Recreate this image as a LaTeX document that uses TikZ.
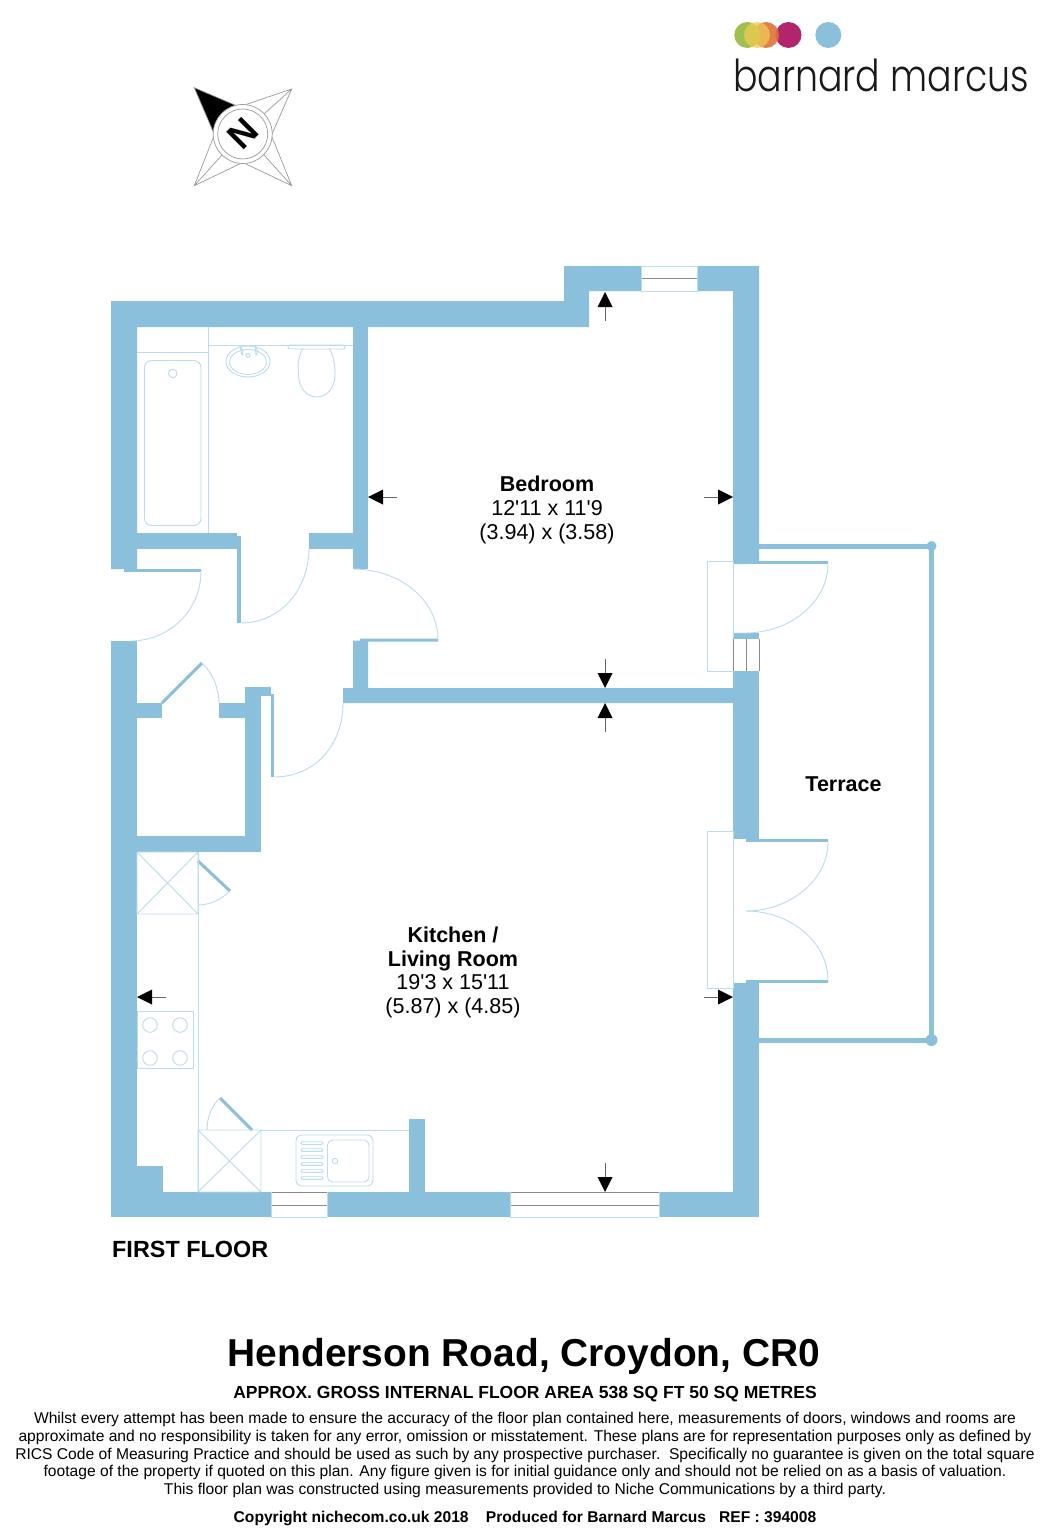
\documentclass[tikz,border=0pt]{standalone}
\usepackage{fontspec}
\setmainfont{Liberation Sans}[Ligatures=TeXOff]
\newfontfamily\logofont{Poppins Light}
\definecolor{wallc}{HTML}{8BC0DC}
\definecolor{fixc}{HTML}{BBDCEA}
\definecolor{winc}{HTML}{8A8A8A}
\definecolor{compc}{HTML}{9A9A9A}
\definecolor{logogreen}{HTML}{9FC04E}
\definecolor{logoyellow}{HTML}{EFCB55}
\definecolor{logoorange}{HTML}{E0713A}
\definecolor{logomagenta}{HTML}{B2256C}
\tikzset{
  wall/.style={fill=wallc},
  fix/.style={draw=fixc,line width=0.9pt},
  leaf/.style={draw=wallc,line width=3pt},
  winline/.style={draw=winc,line width=0.9pt},
  tail/.style={draw=black!60,line width=0.8pt},
  room/.style={align=center,font=\fontsize{21.5}{23.6}\selectfont},
  comp/.style={draw=compc,line width=0.7pt},
}
\newcommand\dimL[2]{\draw[tail] (#1+12,#2) -- (#1+29,#2); \fill (#1,#2) -- (#1+15,#2-7.5) -- (#1+15,#2+7.5) -- cycle;}
\newcommand\dimR[2]{\draw[tail] (#1-12,#2) -- (#1-29,#2); \fill (#1,#2) -- (#1-15,#2-7.5) -- (#1-15,#2+7.5) -- cycle;}
\newcommand\dimU[2]{\draw[tail] (#1,#2+12) -- (#1,#2+29); \fill (#1,#2) -- (#1-7.5,#2+15) -- (#1+7.5,#2+15) -- cycle;}
\newcommand\dimD[2]{\draw[tail] (#1,#2-12) -- (#1,#2-29); \fill (#1,#2) -- (#1-7.5,#2-15) -- (#1+7.5,#2-15) -- cycle;}
\newcommand\wbox[4]{\fill[wall] (#1,#2) rectangle (#3,#4);}
\begin{document}
\begin{tikzpicture}[x=1pt,y=-1pt]
\useasboundingbox (0,0) rectangle (1053,1536);
\fill[white] (0,0) rectangle (1053,1536);
% ---- walls
\fill[wall] (111,301) -- (564,301) -- (564,266) -- (759,266) -- (759,561) -- (746,561) -- (746,564) -- (733,564) -- (733,291) -- (589,291) -- (589,327) -- (137,327) -- (137,569) -- (111,569) -- cycle;
\wbox{124}{569}{201}{571.5}
\wbox{353}{327}{368}{569}
\wbox{137}{533}{237}{548.5}
\wbox{237}{536}{241}{623}
\wbox{309}{533}{353}{548.5}
\fill[wall] (353,640.5) -- (360,640.5) -- (360,638.5) -- (438,638.5) -- (438,641.5) -- (368,641.5) -- (368,688) -- (733,688) -- (733,703) -- (343,703) -- (343,688) -- (353,688) -- cycle;
\wbox{111}{641}{137}{1217}
\wbox{137}{703}{162}{718}
\wbox{219}{703}{246}{718}
\wbox{245}{687}{261}{852}
\wbox{245}{687}{271}{696}
\wbox{271}{694}{274}{777}
\wbox{137}{836}{261}{852}
\wbox{111}{1192}{271}{1217}
\wbox{137}{1166}{163}{1192}
\wbox{327}{1192}{510}{1217}
\wbox{659}{1192}{759}{1217}
\wbox{409}{1119}{425}{1192}
\wbox{733}{633}{759}{638.7}
\wbox{733}{671}{759}{839}
\wbox{733}{983}{759}{1217}
\wbox{746}{839}{828}{842}
\wbox{746}{980}{828}{983}
\wbox{746}{561}{828}{564}
% ---- door leaves on the diagonal
\draw[leaf] (162,703) -- (202,663);
\draw[leaf] (198,861) -- (230,891);
\draw[leaf] (220,1098) -- (252,1130);
% ---- door swings
\draw[fix] (201,571) .. controls (201,610) and (170,641) .. (130,641);
\draw[fix] (309,548) .. controls (309,590) and (280,623) .. (241,623);
\draw[fix] (353,569) .. controls (400,569) and (438,600) .. (438,640);
\draw[fix] (343,703) .. controls (343,745) and (315,777) .. (274,777);
\draw[fix] (202,663) .. controls (212,672) and (219,688) .. (219,703);
\draw[fix] (230,891) .. controls (222,899) and (210,905) .. (198,905);
\draw[fix] (220,1098) .. controls (212,1105) and (207,1117) .. (207,1130);
\draw[fix] (828,564) .. controls (828,602) and (790,633) .. (745,633) -- (733,633);
\draw[fix] (828,842) .. controls (828,880) and (790,911) .. (746,911);
\draw[fix] (828,980) .. controls (828,942) and (790,911) .. (746,911);
% ---- terrace rail
\draw[wallc,line width=5pt] (759,546) -- (931.5,546) -- (931.5,1040) -- (759,1040);
\fill[wallc] (931.5,546) circle (5);
\fill[wallc] (931.5,1040) circle (6);
% ---- outside door boxes
\draw[fix] (733,561) -- (707.5,561) -- (707.5,671) -- (733,671) -- cycle;
\draw[fix] (733,831) -- (707.5,831) -- (707.5,988) -- (733,988) -- cycle;
% ---- windows
\fill[white] (641,266) rectangle (697,291);
\draw[winline] (641,266) -- (697,266) (641,278.5) -- (697,278.5);
\draw[fix] (641,266) rectangle (697,291);
\draw[winline] (271,1192) -- (327,1192) (271,1205) -- (327,1205);
\draw[winline] (510,1192) -- (659,1192) (510,1205) -- (659,1205);
\draw[fix] (271,1217) -- (327,1217) (510,1217) -- (659,1217) (271,1192) -- (271,1217) (327,1192) -- (327,1217) (510,1192) -- (510,1217) (659,1192) -- (659,1217);
\draw[winline] (733,638.7) -- (733,671) (746,638.7) -- (746,671) (759,638.7) -- (759,671);
% ---- bathroom fittings
\draw[fix] (208.7,327) -- (208.7,533) (137,352.7) -- (208.7,352.7) (208.7,345) -- (353,345);
\draw[fix] (144.5,360.5) [rounded corners=7pt] rectangle (201,525.5);
\draw[fix] (172.7,373.5) circle (4.3);
\draw[fix] (248,361.5) ellipse (22 and 15.5);
\draw[fix] (248,362) ellipse (18.5 and 12.5);
\draw[fix] (248,355.5) circle (2);
\draw[fix] (240,346) -- (242,355) -- (243,351) -- (240,346) (255,346) -- (256,355) -- (258,351) -- (255,346);
\draw[fix,rounded corners=2pt] (288,345) -- (345,345) -- (345,349) -- (288,349) -- cycle;
\draw[fix] (303,348) .. controls (296,362) and (298.5,368) .. (298.5,375) .. controls (298.5,388) and (307,397) .. (317,397) .. controls (327,397) and (335,388) .. (335,375) .. controls (335,365) and (334,357) .. (329,348);
% ---- kitchen fittings
\draw[fix] (137,852) rectangle (198,914) (137,852) -- (198,914) (198,852) -- (137,914);
\draw[fix] (198,852) -- (198,1192);
\draw[fix] (137,1011) rectangle (193.5,1068);
\foreach \cx in {150,180} \foreach \cy in {1025,1058} \draw[fix] (\cx,\cy) circle (7.3);
\draw[fix] (198,1130) rectangle (261,1192) (198,1130) -- (261,1192) (261,1130) -- (198,1192);
\draw[fix] (261,1130) -- (409,1130);
\draw[fix] (296,1135) [rounded corners=6pt] rectangle (373,1186);
\draw[fix] (327.5,1140) [rounded corners=5pt] rectangle (369,1182);
\draw[fix] (335,1161) circle (2.7);
\foreach \ly in {1143,1150,1157,1164,1171,1178} \draw[fix,rounded corners=1pt] (301,\ly-1.3) rectangle (323,\ly+1.3);
% ---- dimension arrows
\dimL{368}{497}
\dimR{733}{497}
\dimU{605}{292}
\dimD{605}{688}
\dimU{605}{703}
\dimL{137}{997}
\dimR{733}{997}
\dimD{605}{1192}
% ---- compass
\fill (194.3,87.7) -- (239.5,107) .. controls (222,109) and (216,122) .. (213.5,132.5) -- cycle;
\draw[comp] (239.5,107) -- (194.3,87.7) -- (213.5,132.5);
\draw[comp] (246,104.5) -- (291.7,89) -- (272,134) (291.7,89) -- (264,114);
\draw[comp] (213.5,137) -- (194.3,185.7) -- (239.5,164) (194.3,185.7) -- (222,155);
\draw[comp] (246,164) -- (291.7,185.7) -- (272,137) (291.7,185.7) -- (264,155);
\fill[white] (242.7,134) circle (29.5);
\draw[comp] (242.7,134) circle (29.5);
\draw[comp] (242.7,134) circle (25);
\node[rotate=45,font=\bfseries\fontsize{36}{36}\selectfont] (north) at (242.7,134) {N};
% ---- logo
\fill[logomagenta] (788.5,35) circle (13);
\fill[logoorange,fill opacity=.9] (766,35) circle (13);
\fill[logogreen] (747.3,35) circle (13);
\fill[logoyellow,fill opacity=.75] (757,35) circle (13);
\fill[wallc] (828.3,35) circle (13);
\node[anchor=base west,inner sep=0pt,font=\logofont\fontsize{44}{46}\selectfont,text=black!90] (logo) at (733,91.5) {\scalebox{0.825}[1]{barnard marcus}};
% ---- labels
\node[room] (bedroom) at (547,510) {\textbf{Bedroom}\\12'11 x 11'9\\(3.94) x (3.58)};
\node[room] (kitchen) at (453,972.5) {\textbf{Kitchen /}\\\textbf{Living Room}\\19'3 x 15'11\\(5.87) x (4.85)};
\node[room] (terrace) at (843.5,784) {\textbf{Terrace}};
\node[anchor=base west,inner sep=0pt,font=\bfseries\fontsize{23.4}{26}\selectfont] (floor) at (112,1257.5) {FIRST FLOOR};
\node[font=\bfseries\fontsize{38.9}{42}\selectfont] (title) at (524,1356) {Henderson Road, Croydon, CR0};
\node[font=\bfseries\fontsize{17.5}{20}\selectfont] (area) at (525,1394) {APPROX. GROSS INTERNAL FLOOR AREA 538 SQ FT 50 SQ METRES};
\node[align=center,font=\fontsize{15.62}{17.7}\selectfont] (terms) at (525,1455) {Whilst every attempt has been made to ensure the accuracy of the floor plan contained here, measurements of doors, windows and rooms are\\approximate and no responsibility is taken for any error, omission or misstatement. These plans are for representation purposes only as defined by\\RICS Code of Measuring Practice and should be used as such by any prospective purchaser.\ \ Specifically no guarantee is given on the total square\\footage of the property if quoted on this plan. Any figure given is for initial guidance only and should not be relied on as a basis of valuation.\\This floor plan was constructed using measurements provided to Niche Communications by a third party.};
\node[font=\bfseries\fontsize{15.6}{18}\selectfont] (copy) at (525,1518.5) {Copyright nichecom.co.uk 2018\ \ \ \ Produced for Barnard Marcus\ \ \ REF : 394008};
\end{tikzpicture}
\end{document}
